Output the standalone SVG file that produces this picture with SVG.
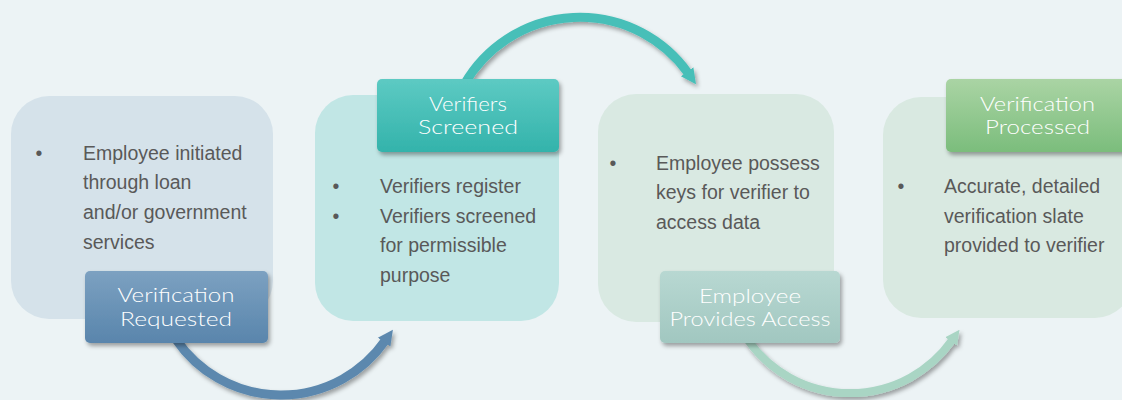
<svg xmlns="http://www.w3.org/2000/svg" width="1122" height="400" viewBox="0 0 1122 400">
  <defs>
    <style>
      .body { font-family: "Liberation Sans", Arial, sans-serif; font-size: 19.5px; fill: #595959; }
      .bul { font-family: "Liberation Sans", Arial, sans-serif; font-size: 19.5px; fill: #595959; text-anchor: middle; }
      .lbl { font-family: Lato, "Open Sans", sans-serif; font-size: 19px; font-weight: 300; fill: #ffffff; text-anchor: middle; }
      .arrow { fill: none; }
    </style>
    <linearGradient id="gBlue" x1="0" y1="0" x2="0" y2="1">
      <stop offset="0" stop-color="#7ca1c1"/>
      <stop offset="1" stop-color="#5985ac"/>
    </linearGradient>
    <linearGradient id="gTeal" x1="0" y1="0" x2="0" y2="1">
      <stop offset="0" stop-color="#5dcac3"/>
      <stop offset="1" stop-color="#33b3ab"/>
    </linearGradient>
    <linearGradient id="gMint" x1="0" y1="0" x2="0" y2="1">
      <stop offset="0" stop-color="#b8d8d2"/>
      <stop offset="1" stop-color="#a1c7c0"/>
    </linearGradient>
    <linearGradient id="gGreen" x1="0" y1="0" x2="0" y2="1">
      <stop offset="0" stop-color="#aad4a4"/>
      <stop offset="1" stop-color="#7bbd7c"/>
    </linearGradient>
    <filter id="shadow" x="-20%" y="-20%" width="140%" height="150%">
      <feDropShadow dx="2" dy="3" stdDeviation="2.2" flood-color="#000000" flood-opacity="0.35"/>
    </filter>
    <marker id="headBlue" viewBox="0 0 10 10" refX="1" refY="5" markerWidth="1.7" markerHeight="2" orient="auto" markerUnits="strokeWidth">
      <path d="M0,0 L10,5 L0,10 z" fill="#5b88ae"/>
    </marker>
    <marker id="headTeal" viewBox="0 0 10 10" refX="1" refY="5" markerWidth="1.7" markerHeight="2" orient="auto" markerUnits="strokeWidth">
      <path d="M0,0 L10,5 L0,10 z" fill="#47bfb8"/>
    </marker>
    <marker id="headMint" viewBox="0 0 10 10" refX="1" refY="5" markerWidth="1.8" markerHeight="2.1" orient="auto" markerUnits="strokeWidth">
      <path d="M0,0 L10,5 L0,10 z" fill="#a9d5c4"/>
    </marker>
  </defs>

  <rect x="0" y="0" width="1122" height="400" fill="#ecf3f5"/>

  <g id="connectors">
    <path class="arrow" d="M176,339.4 A127,127 0 0 0 385,340.9" stroke="#5b88ae" stroke-width="9" marker-end="url(#headBlue)" filter="url(#shadow)"/>
    <path class="arrow" d="M464.5,84 A133,133 0 0 1 688,73" stroke="#47bfb8" stroke-width="9" marker-end="url(#headTeal)" filter="url(#shadow)"/>
    <path class="arrow" d="M748,340.3 A125,125 0 0 0 952,340.3" stroke="#a9d5c4" stroke-width="8" marker-end="url(#headMint)" filter="url(#shadow)"/>
  </g>

  <g id="step1">
    <rect x="11" y="96" width="262" height="223" rx="38" fill="#d5e2ea"/>
    <text class="bul" x="39" y="159.5">•</text>
    <text class="body" x="83" y="159.5">Employee initiated</text>
    <text class="body" x="83" y="189">through loan</text>
    <text class="body" x="83" y="219">and/or government</text>
    <text class="body" x="83" y="248.5">services</text>
    <rect x="85" y="271" width="183" height="72" rx="5" fill="url(#gBlue)" filter="url(#shadow)"/>
    <text class="lbl" x="176" y="302" textLength="117" lengthAdjust="spacingAndGlyphs">Verification</text>
    <text class="lbl" x="176" y="325.5" textLength="112" lengthAdjust="spacingAndGlyphs">Requested</text>
  </g>

  <g id="step2">
    <rect x="315" y="95" width="244" height="226" rx="38" fill="#c1e6e5"/>
    <rect x="377" y="79" width="182" height="73" rx="5" fill="url(#gTeal)" filter="url(#shadow)"/>
    <text class="lbl" x="468" y="110.5" textLength="78" lengthAdjust="spacingAndGlyphs">Verifiers</text>
    <text class="lbl" x="468" y="134" textLength="100" lengthAdjust="spacingAndGlyphs">Screened</text>
    <text class="bul" x="336" y="193">•</text>
    <text class="body" x="380" y="193">Verifiers register</text>
    <text class="bul" x="336" y="222.5">•</text>
    <text class="body" x="380" y="222.5">Verifiers screened</text>
    <text class="body" x="380" y="252">for permissible</text>
    <text class="body" x="380" y="281.5">purpose</text>
  </g>

  <g id="step3">
    <rect x="598" y="94" width="236" height="228" rx="38" fill="#d9e9e2"/>
    <text class="bul" x="613" y="169.5">•</text>
    <text class="body" x="656" y="169.5">Employee possess</text>
    <text class="body" x="656" y="199">keys for verifier to</text>
    <text class="body" x="656" y="228.5">access data</text>
    <rect x="660" y="271" width="180" height="72" rx="5" fill="url(#gMint)" filter="url(#shadow)"/>
    <text class="lbl" x="750" y="302.5" textLength="102" lengthAdjust="spacingAndGlyphs">Employee</text>
    <text class="lbl" x="750" y="326" textLength="161" lengthAdjust="spacingAndGlyphs">Provides Access</text>
  </g>

  <g id="step4">
    <rect x="883" y="97" width="250" height="221" rx="38" fill="#d9e9e1"/>
    <rect x="946" y="79" width="182" height="73" rx="5" fill="url(#gGreen)" filter="url(#shadow)"/>
    <text class="lbl" x="1037.5" y="111" textLength="115" lengthAdjust="spacingAndGlyphs">Verification</text>
    <text class="lbl" x="1037.5" y="134" textLength="105" lengthAdjust="spacingAndGlyphs">Processed</text>
    <text class="bul" x="901" y="193">•</text>
    <text class="body" x="944" y="193">Accurate, detailed</text>
    <text class="body" x="944" y="222.5">verification slate</text>
    <text class="body" x="944" y="252">provided to verifier</text>
  </g>
</svg>
